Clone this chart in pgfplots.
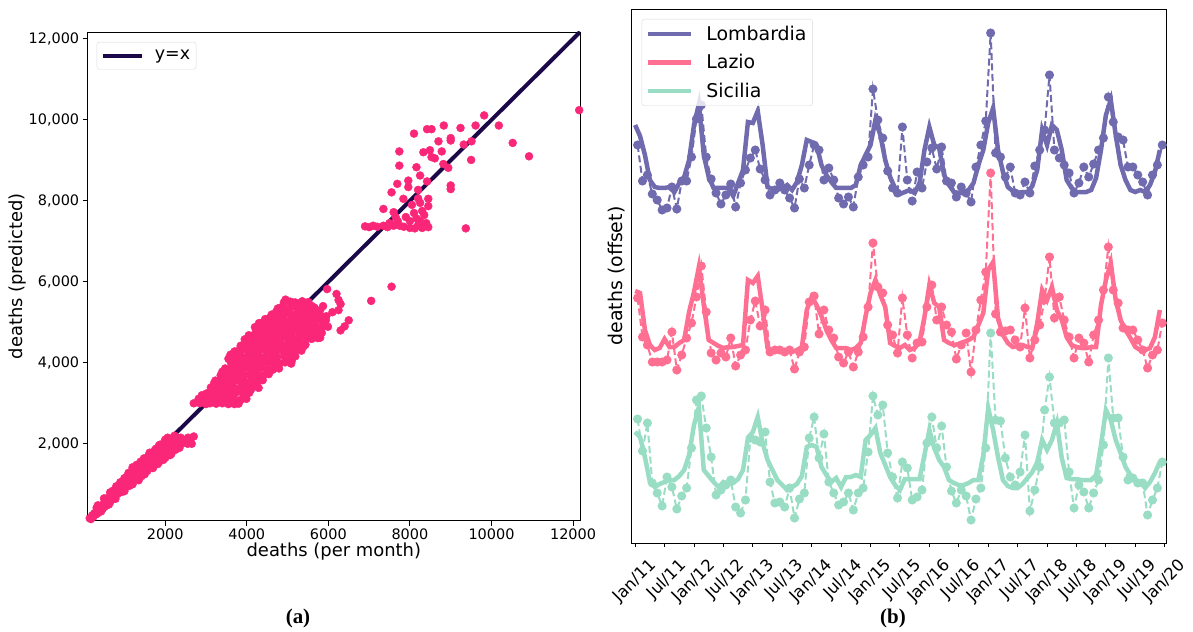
\documentclass[border=0pt]{standalone}
\usepackage{fontspec}
\setmainfont{DejaVu Sans}
\newfontfamily\capfont{Liberation Serif}
\usepackage{pgfplots}
\usepackage{pgfplotstable}
\pgfplotsset{compat=1.18}
\definecolor{cPt}{RGB}{250,38,120}
\definecolor{cLine}{RGB}{26,8,72}
\definecolor{cLom}{RGB}{112,106,175}
\definecolor{cLaz}{RGB}{255,111,146}
\definecolor{cSic}{RGB}{152,221,196}

% monthly series, Jan/11 = 0; values are offset positions (top = small)
\pgfplotstableread{
k xd lomS lomD lazS lazD sicS sicD
0 0.5 125 145 291 298 432 419
1 1.5 136 181 293 337 437 451
2 2.5 155 175 330 345 457 423
3 3.5 180 194 345 362 482 483
4 4.5 187 200 350 362 487 493
5 5.5 188 210 348 362 484 506
6 6.5 188 208 339 360 482 477
7 7.5 187 187 347 332 480 487
8 8.5 192 209 347 370 480 509
9 9.5 183 181 343 355 476 496
10 10.5 177 181 340 338 470 488
11 11.5 160 157 312 323 455 448
12 12.5 125 119 292 297 425 400
13 13.5 104 105 267 266 407 396
14 14.5 155 157 305 312 470 428
15 15.5 177 179 340 353 476 457
16 16.5 188 193 343 360 482 495
17 17.5 188 204 346 353 487 490
18 18.5 188 195 348 357 482 485
19 19.5 188 184 347 338 484 480
20 20.5 196 207 347 366 483 507
21 21.5 183 183 346 355 479 513
22 22.5 170 170 345 350 470 500
23 23.5 122 158 280 320 438 438
24 24.5 123 150 283 301 432 440
25 25.5 111 169 276 326 417 442
26 26.5 145 180 310 310 443 432
27 27.5 187 195 348 352 460 482
28 28.5 189 190 351 350 470 503
29 29.5 190 183 351 350 480 502
30 30.5 188 190 350 352 485 507
31 31.5 185 198 350 350 490 488
32 32.5 190 208 352 369 487 518
33 33.5 182 179 350 352 484 499
34 34.5 165 188 347 347 476 493
35 35.5 140 165 310 302 447 438
36 36.5 142 145 297 296 445 417
37 37.5 145 150 305 334 447 458
38 38.5 165 180 316 310 467 434
39 39.5 175 168 330 330 475 482
40 40.5 182 180 340 338 482 493
41 41.5 188 198 348 357 478 505
42 42.5 188 204 348 363 487 502
43 43.5 188 197 348 352 477 493
44 44.5 188 207 350 367 477 510
45 45.5 185 177 348 352 475 493
46 46.5 165 165 343 337 477 488
47 47.5 155 157 316 307 440 452
48 48.5 145 89 293 243 435 396
49 49.5 120 120 280 287 428 415
50 50.5 135 138 295 293 453 405
51 51.5 160 171 307 325 465 453
52 52.5 177 188 343 335 477 477
53 53.5 188 193 346 353 485 498
54 54.5 194 127 348 298 490 462
55 55.5 192 180 345 335 479 468
56 56.5 190 201 350 358 479 500
57 57.5 193 172 348 343 479 497
58 58.5 183 188 342 342 479 490
59 59.5 150 162 317 307 455 443
60 60.5 127 148 285 285 430 417
61 61.5 145 169 303 320 448 448
62 62.5 148 147 307 307 460 426
63 63.5 175 181 340 325 467 467
64 64.5 185 183 343 332 480 491
65 65.5 192 197 345 359 483 503
66 66.5 193 187 344 345 485 490
67 67.5 193 193 342 333 485 496
68 68.5 190 202 340 372 483 520
69 69.5 183 167 337 330 480 499
70 70.5 165 145 325 300 480 488
71 71.5 150 121 313 272 455 448
72 72.5 123 33 270 173 408 333
73 73.5 108 153 262 314 430 420
74 74.5 150 157 318 332 457 421
75 75.5 172 177 335 331 480 458
76 76.5 187 167 343 330 486 477
77 77.5 191 193 347 340 488 485
78 78.5 193 195 346 347 488 472
79 79.5 192 182 345 308 484 435
80 80.5 192 193 347 358 478 511
81 81.5 186 166 348 340 472 490
82 82.5 170 150 323 325 462 467
83 83.5 130 130 290 300 440 410
84 84.5 145 75 300 257 450 377
85 85.5 125 150 287 318 440 423
86 86.5 130 158 310 297 423 423
87 87.5 150 165 320 320 458 420
88 88.5 180 173 337 337 478 472
89 89.5 188 193 345 358 479 508
90 90.5 192 183 347 338 479 485
91 91.5 192 167 348 343 480 492
92 92.5 192 177 348 362 480 508
93 93.5 190 164 347 335 480 493
94 94.5 178 150 347 320 475 480
95 95.5 150 138 305 290 445 445
96 96.5 115 97 280 247 410 358
97 97.5 100 122 263 290 420 418
98 98.5 135 137 300 303 440 418
99 99.5 165 140 320 328 453 457
100 100.5 180 167 330 330 467 480
101 101.5 190 167 338 330 475 478
102 102.5 192 175 347 340 480 483
103 103.5 190 182 350 350 482 483
104 104.5 192 195 350 368 488 515
105 105.5 185 175 348 355 482 500
106 106.5 172 165 337 350 473 488
107 107.5 150 145 310 323 462 462
}\regions

\begin{document}
\begin{tikzpicture}
\path[use as bounding box] (0bp,0bp) rectangle (1193bp,632bp);

% ---------------- (a) ----------------
\begin{axis}[
  at={(87.7bp,111.3bp)}, anchor=south west,
  width=492.3bp, height=488.7bp, scale only axis,
  xmin=100, xmax=12170, ymin=100, ymax=12170,
  scaled ticks=false,
  xtick={2000,4000,6000,8000,10000,12000},
  ytick={2000,4000,6000,8000,10000,12000},
  tick align=outside, tick pos=left, major tick length=5bp,
  axis line style={line width=0.9bp}, major tick style={black,line width=0.9bp},
  /pgf/number format/assume math mode=true,
  xticklabel style={/pgf/number format/1000 sep={},font=\fontsize{14.5}{17}\selectfont},
  yticklabel style={/pgf/number format/1000 sep={,},font=\fontsize{14.5}{17}\selectfont},
  xlabel={deaths (per month)}, ylabel={deaths (predicted)},
  label style={font=\fontsize{18}{21}\selectfont},
  xlabel style={at={(axis description cs:0.5,-0.063)},anchor=center},
  ylabel style={at={(axis description cs:-0.142,0.5)},anchor=center},
  legend style={at={(0,1)}, anchor=north west, xshift=9bp, yshift=-10bp,
    draw=black!15, rounded corners=2.5bp, fill=white,
    font=\fontsize{17.5}{20}\selectfont, inner xsep=4bp, inner ysep=6bp,
    /tikz/every odd column/.append style={column sep=9bp}},
  legend image code/.code={\draw[#1] (0bp,0bp) -- (39bp,0bp);},
]
\addplot[only marks, mark=*, mark size=4bp, color=cPt, forget plot] coordinates {
(150,160)(180,140)(210,230)(240,200)(260,280)(290,250)(310,330)(330,270)(350,380)(380,320)
(400,420)(420,360)(450,470)(470,400)(490,520)(510,440)(540,560)(560,480)(580,620)(600,530)
(630,660)(650,560)(670,720)(700,640)(720,760)(740,650)(760,820)(790,720)(810,870)(830,760)
(850,900)(880,800)(900,950)(920,820)(940,1000)(970,880)(990,1050)(1010,900)(1030,1100)(1060,960)
(1080,1150)(1100,980)(1120,1200)(1150,1040)(1170,1250)(1190,1080)(1210,1300)(1240,1120)(1260,1340)(1280,1150)
(1300,1380)(1330,1200)(1350,1420)(1370,1230)(1400,1470)(1420,1280)(1440,1500)(1470,1320)(1490,1550)(1510,1350)
(1530,1590)(1560,1400)(1580,1630)(1600,1420)(1630,1680)(1650,1460)(1670,1720)(1700,1500)(1720,1760)(1740,1530)
(1760,1800)(1790,1560)(1810,1850)(1830,1600)(1860,1900)(1880,1640)(1900,1940)(1930,1680)(1950,1980)(1970,1700)
(2000,2050)(2020,1760)(2050,2080)(2070,1800)(2100,2100)(2130,1850)(2150,2120)(2180,1900)(2200,2150)(2250,1950)
(2280,2000)(2330,2050)(2400,2000)(2450,2100)(2500,2050)(2600,2100)(2650,2000)(2700,2180)
(500,480)(800,790)(1100,1080)(1400,1380)(1700,1650)(1200,1180)(900,880)(1600,1560)(1900,1850)(2050,1950)
(600,600)(300,290)(1000,1000)(1300,1270)(1800,1720)(1500,1460)(700,690)(2200,2050)(2300,2150)(400,390)
(1150,1120)(1450,1420)(1750,1700)
(1200,1000)(1500,1250)(1700,1400)(1850,1550)(2000,1650)(2150,1750)(2250,1850)(1000,830)(1350,1100)
(650,800)(800,950)(1000,1150)(1200,1420)(1300,1480)(1400,1560)(1500,1620)(1600,1720)(1750,1850)(1850,1960)
(2000,2100)(900,1050)(1100,1280)(500,650)(350,480)
(320,420)(430,330)(560,650)(620,500)(720,840)(780,640)(880,980)(960,820)(1050,1180)(1120,960)
(1180,1320)(1260,1100)(1340,1460)(1420,1200)(1480,1640)(1560,1330)(1620,1780)(1680,1440)(1780,1880)(1820,1500)
(1880,1980)(1950,1600)(2060,2150)(2120,1720)(2230,2200)(2350,1900)(2380,2150)(2550,2000)(2560,2150)(2150,1980)
(2700,3000)(2850,3000)(3000,2980)(3100,3000)(3250,2990)(3400,3000)(3550,2980)(3700,2980)(3800,2990)(2950,3050)
(3200,3050)(3500,3050)
(2900,3200)(3050,3250)(3200,3200)(3300,3300)(3150,3350)(3400,3250)(3500,3300)(3600,3200)(3700,3350)(3350,3400)
(3900,3300)(4100,3330)(3250,3150)
(3200,3500)(3350,3500)(3450,3650)(3550,3600)(3600,3450)(3700,3550)(3800,3700)(3900,3600)(4000,3500)(3500,3800)
(3650,3750)(4100,3700)(4270,3540)(4200,3800)(3400,3700)(3750,3850)
(3400,3780)(3550,4100)(3650,3950)(3750,4050)(3850,4150)(3950,3900)(4050,4050)(4150,4000)(4300,3900)(4400,4100)
(4500,3850)(3600,4200)(4250,4150)(3850,3950)(4700,4000)(4950,4040)(5100,4040)
(3700,4280)(3800,4300)(3900,4420)(4000,4350)(4100,4550)(4200,4300)(4300,4500)(4400,4400)(4500,4300)(4600,4450)
(4700,4300)(4800,4500)(4900,4350)(5000,4400)(5100,4330)(5200,4500)(5400,4410)(3850,4420)(4050,4200)(4550,4600)
(3950,4580)(4050,4680)(4100,4650)(4200,4880)(4300,4700)(4400,4850)(4500,4750)(4600,4950)(4700,4650)(4800,4850)
(4900,4700)(5000,4900)(5100,4750)(5200,4850)(5300,4650)(5400,4900)(5500,4700)(5600,4650)(5700,4870)(5800,4620)
(6300,4800)(4350,4980)(4750,5000)(5150,4980)(5550,4950)
(4300,4980)(4450,5080)(4550,5100)(4600,5100)(4720,5260)(4800,5250)(4900,5100)(5000,5300)(5100,5200)(5200,5050)
(5300,5350)(5400,5250)(5500,5100)(5600,5300)(5700,5200)(5800,5300)(6100,5250)(6250,5300)(5950,5150)
(4820,5360)(4950,5560)(5100,5500)(5260,5460)(5450,5460)(5600,5400)(5970,5820)(5870,5400)(6200,5700)(6300,5450)
(6250,5550)(7050,5530)(7550,5880)(6500,5050)(6400,4900)
(3300,3300)(3800,3800)(4300,4300)(4800,4800)(5300,5300)(3500,3450)(4000,4000)(4500,4500)(5000,5000)(5500,5350)
(3650,3600)(4150,4150)(4650,4600)(5150,5100)(4450,4350)(4950,4850)
(2820,3110)(2960,3090)(3110,3120)(3240,3080)(3390,3110)(3560,3100)(3690,3120)(3860,3090)(3990,3110)
(3010,3240)(3160,3260)(3290,3230)(3460,3260)(3610,3240)(3740,3270)(3910,3230)(4060,3260)
(3120,3390)(3240,3420)(3410,3390)(3560,3410)(3690,3380)(3860,3420)(4010,3390)(4140,3410)(4290,3380)
(3230,3560)(3360,3540)(3490,3570)(3660,3540)(3810,3560)(3940,3530)(4110,3560)(4240,3540)(4390,3570)
(3360,3690)(3510,3720)(3640,3690)(3810,3710)(3960,3690)(4090,3720)(4260,3700)(4410,3690)(4540,3720)
(3470,3860)(3610,3840)(3760,3870)(3890,3840)(4060,3860)(4210,3840)(4340,3870)(4510,3850)(4640,3830)(4790,3860)
(3610,4010)(3760,3990)(3890,4020)(4060,3990)(4190,4010)(4360,3990)(4510,4020)(4640,4000)(4810,3990)(4940,4010)(5090,3980)
(3720,4140)(3860,4160)(4010,4140)(4140,4170)(4310,4150)(4440,4140)(4610,4160)(4740,4140)(4910,4170)(5040,4140)(5190,4160)
(3860,4290)(4010,4310)(4160,4290)(4290,4320)(4460,4300)(4590,4290)(4760,4310)(4890,4300)(5060,4280)(5210,4310)(5340,4300)
(3960,4460)(4110,4440)(4240,4470)(4410,4450)(4560,4440)(4690,4460)(4860,4450)(5010,4470)(5140,4440)(5310,4460)(5440,4450)
(4110,4590)(4240,4610)(4410,4590)(4540,4620)(4710,4600)(4840,4590)(5010,4610)(5160,4600)(5290,4580)(5460,4610)(5590,4590)(5740,4610)
(4220,4760)(4360,4740)(4510,4770)(4640,4750)(4810,4740)(4960,4760)(5090,4750)(5260,4770)(5410,4740)(5540,4760)(5710,4750)(5840,4740)
(4360,4890)(4510,4910)(4640,4890)(4810,4920)(4940,4900)(5110,4890)(5240,4910)(5410,4900)(5560,4880)(5690,4910)(5860,4900)(5990,4890)
(4460,5060)(4610,5040)(4760,5070)(4890,5050)(5060,5040)(5190,5060)(5360,5050)(5510,5070)(5640,5040)(5810,5060)(5940,5050)
(4610,5190)(4740,5210)(4910,5190)(5040,5220)(5210,5200)(5340,5190)(5510,5210)(5660,5200)(5790,5180)
(4760,5340)(4910,5360)(5040,5340)(5210,5370)(5360,5350)(5490,5340)(5660,5360)
(4910,5490)(5060,5510)(5190,5490)(5360,5520)(5510,5500)
(6900,7370)(7000,7350)(7100,7385)(7200,7360)(7350,7385)(7450,7350)(7600,7385)(7750,7385)(7850,7360)(8000,7330)
(8120,7320)(8300,7330)(8160,7565)(7350,7800)(7600,7720)(7840,8050)(8200,8060)(8450,8050)(8450,7870)(7550,8210)
(7690,8420)(7960,8500)(8250,8625)(8420,8480)(7960,8340)(8200,8270)(8160,8830)(7740,8870)(8820,8910)(8940,8815)
(9000,8380)(9000,8290)(7740,9220)(8330,9200)(8490,9250)(8530,9080)(8610,9050)(8780,9220)(8700,9470)(8100,9660)
(8420,9770)(8530,9770)(8830,9860)(9000,9550)(9000,9490)(9240,9800)(9320,9390)(9510,9470)(9500,9010)(9610,9860)
(9820,10110)(10180,9860)(10520,9430)(10920,9100)(9370,7320)(12150,10240)
(8250,7500)(8350,7650)(8400,7450)(8300,7750)(8200,7400)(8450,7350)(8000,7500)(7900,7600)(7700,7500)(7500,7450)
(8100,7700)(8350,7400)(8050,7900)(7650,7600)(8250,7950)
};
\addplot[cLine, line width=4bp] coordinates {(100,100)(12170,12170)};
\addlegendentry{y=x}
\end{axis}

% ---------------- (b) ----------------
\begin{axis}[
  at={(631.7bp,89bp)}, anchor=south west,
  width=534.5bp, height=534bp, scale only axis,
  xmin=-0.7, xmax=108.3, ymin=9, ymax=543, y dir=reverse,
  ytick=\empty,
  xtick={0,6,...,108},
  xticklabels={Jan/11,Jul/11,Jan/12,Jul/12,Jan/13,Jul/13,Jan/14,Jul/14,Jan/15,Jul/15,Jan/16,Jul/16,Jan/17,Jul/17,Jan/18,Jul/18,Jan/19,Jul/19,Jan/20},
  tick align=outside, xtick pos=bottom, major tick length=4bp,
  axis line style={line width=0.9bp}, major tick style={black,line width=0.9bp},
  xticklabel style={font=\fontsize{16.5}{19}\selectfont, xshift=13bp, yshift=-9bp, rotate=45, anchor=north east, inner sep=1bp},
  ylabel={deaths (offset)},
  label style={font=\fontsize{19}{22}\selectfont},
  ylabel style={at={(axis description cs:-0.028,0.5)},anchor=center},
  legend cell align=left,
  legend style={at={(0,1)}, anchor=north west, xshift=10bp, yshift=-10bp,
    draw=black!15, rounded corners=2.5bp, fill=white, fill opacity=0.8, text opacity=1, draw opacity=1,
    font=\fontsize{19}{22}\selectfont, inner xsep=4bp, inner ysep=5bp, row sep=8.5bp,
    /tikz/every odd column/.append style={column sep=11bp}},
  legend image code/.code={\draw[#1] (0bp,0bp) -- (43bp,0bp);},
]
\addplot[cLom, line width=4.5bp] table[x=k, y=lomS] {\regions};
\addlegendentry{Lombardia}
\addplot[cLaz, line width=4.5bp] table[x=k, y=lazS] {\regions};
\addlegendentry{Lazio}
\addplot[cSic, line width=4.5bp] table[x=k, y=sicS] {\regions};
\addlegendentry{Sicilia}
\addplot[cLom, line width=2bp, dash pattern=on 7bp off 3.5bp, mark=*, mark size=3.5bp, mark options={solid}, forget plot] table[x=xd, y=lomD] {\regions};
\addplot[cLaz, line width=2bp, dash pattern=on 7bp off 3.5bp, mark=*, mark size=3.5bp, mark options={solid}, forget plot] table[x=xd, y=lazD] {\regions};
\addplot[cSic, line width=2bp, dash pattern=on 7bp off 3.5bp, mark=*, mark size=3.5bp, mark options={solid}, forget plot] table[x=xd, y=sicD] {\regions};
\end{axis}

\node[font=\capfont\bfseries\fontsize{21}{24}\selectfont] at (298bp,14bp) {(a)};
\node[font=\capfont\bfseries\fontsize{21}{24}\selectfont] at (893bp,14bp) {(b)};
\end{tikzpicture}
\end{document}
